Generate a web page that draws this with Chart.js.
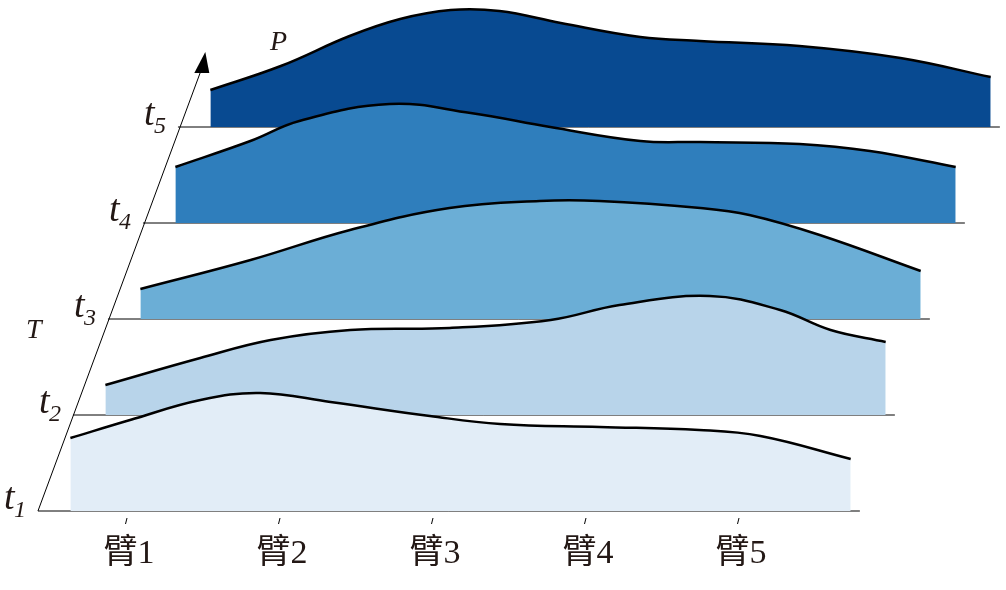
<!DOCTYPE html>
<html>
<head>
<meta charset="utf-8">
<script src="https://cdn.jsdelivr.net/npm/chart.js@4/dist/chart.umd.min.js"></script>
<style>
  html, body { margin: 0; padding: 0; background: #fff; }
  #wrap { width: 1006px; height: 590px; }
</style>
</head>
<body>
<div id="wrap"><canvas id="ridge"></canvas></div>
<script>
// Arm labels and positions along the P axis
const armLabels = ['臂1', '臂2', '臂3', '臂4', '臂5'];
const armTicks = [1, 2, 3, 4, 5];
const layerLabels = ['1', '2', '3', '4', '5'];

// Each time slice: positions (arm units) and heights
const t1Pos = [0.63, 1.02, 1.48, 1.87, 2.33, 2.98, 3.44, 4.09, 4.74, 5.14, 5.73];
const t1Val = [73, 91, 111, 118, 109, 95, 87, 84, 81, 75, 52];
const t2Pos = [0.63, 1.25, 1.71, 2.23, 2.88, 3.54, 3.99, 4.58, 5.04, 5.37, 5.73];
const t2Val = [30, 57, 75, 85, 87, 95, 110, 119, 105, 85, 73];
const t3Pos = [0.63, 1.35, 2.00, 2.65, 3.24, 3.63, 4.29, 4.61, 5.07, 5.73];
const t3Val = [30, 59, 89, 111, 118, 118, 111, 104, 84, 48];
const t4Pos = [0.63, 1.12, 1.44, 2.03, 2.56, 3.08, 3.67, 4.06, 4.71, 5.17, 5.73];
const t4Val = [56, 82, 102, 119, 110, 96, 82, 81, 79, 72, 56];
const t5Pos = [0.63, 1.09, 1.54, 1.87, 2.20, 2.52, 2.92, 3.44, 3.83, 4.48, 5.14, 5.73];
const t5Val = [37, 61, 91, 108, 117, 116, 104, 90, 86, 81, 69, 50];

const layerColors = ['#e2edf7', '#b8d4ea', '#6baed6', '#2f7ebc', '#084a91'];

// layout: oblique shift per layer
const shiftX = 35 / 153;
const shiftY = 96;
const base0 = 511;
const baseStart = 0.418, baseEnd = 5.79;

const layers = [[t1Pos, t1Val], [t2Pos, t2Val], [t3Pos, t3Val], [t4Pos, t4Val], [t5Pos, t5Val]];
const datasets = [];
layers.forEach(([pos, val], i) => {
    const base = base0 - shiftY * i;
    const dx = shiftX * i;
    datasets.push({
        data: pos.map((p, k) => ({ x: p + dx, y: base - val[k] })),
        borderColor: '#000',
        borderWidth: 2.5,
        backgroundColor: layerColors[i],
        fill: { value: base },
        tension: 0.4,
        pointRadius: 0,
        order: 2 * i
    });
    datasets.push({
        data: [{ x: baseStart + dx, y: base }, { x: baseEnd + dx, y: base }],
        borderColor: '#000',
        borderWidth: 1,
        fill: false,
        pointRadius: 0,
        order: 2 * i + 1
    });
});

const decor = {
    id: 'decor',
    afterDraw(chart) {
        const c = chart.ctx, xs = chart.scales.x, ys = chart.scales.y;
        c.save();
        c.strokeStyle = '#000';
        c.fillStyle = '#000';
        c.lineWidth = 1;
        // oblique T axis
        const x0 = xs.getPixelForValue(baseStart), y0 = ys.getPixelForValue(base0);
        const top = 52;
        const xt = x0 + (y0 - top) * 35 / 96;
        c.beginPath(); c.moveTo(x0, y0); c.lineTo(xt - 3, top + 15); c.stroke();
        c.beginPath();
        c.moveTo(xt, top); c.lineTo(xt - 11, top + 21); c.lineTo(xt + 4, top + 21); c.closePath(); c.fill();
        // arm ticks and labels
        c.font = '34px "Liberation Serif", "Noto Sans CJK SC"';
        c.textAlign = 'center';
        c.textBaseline = 'alphabetic';
        c.fillStyle = '#231815';
        armTicks.forEach((t, k) => {
            const px = xs.getPixelForValue(t);
            c.beginPath(); c.moveTo(px, 518); c.lineTo(px - 1.5, 524); c.stroke();
            c.fillText(armLabels[k], px + 2, 563);
        });
        // layer labels t1..t5
        c.textAlign = 'left';
        layerLabels.forEach((s, i) => {
            const bx = x0 + 35 * i, by = y0 - shiftY * i;
            c.font = 'italic 38px "Liberation Serif"';
            c.fillText('t', bx - 34, by - 2);
            c.font = 'italic 24px "Liberation Serif"';
            c.fillText(s, bx - 24, by + 6);
        });
        c.font = 'italic 28px "Liberation Serif"';
        c.fillText('T', 26, 338);
        c.fillText('P', 270, 50);
        c.restore();
    }
};

new Chart(document.getElementById('ridge'), {
    type: 'line',
    data: { datasets: datasets },
    options: {
        responsive: true,
        maintainAspectRatio: false,
        animation: false,
        layout: { padding: 0 },
        plugins: { legend: { display: false }, tooltip: { enabled: false } },
        scales: {
            x: { type: 'linear', display: false, min: 1 - 127 / 153, max: 1 + (1006 - 127) / 153 },
            y: { type: 'linear', display: false, min: 0, max: 590, reverse: true }
        }
    },
    plugins: [decor]
});
</script>
</body>
</html>
